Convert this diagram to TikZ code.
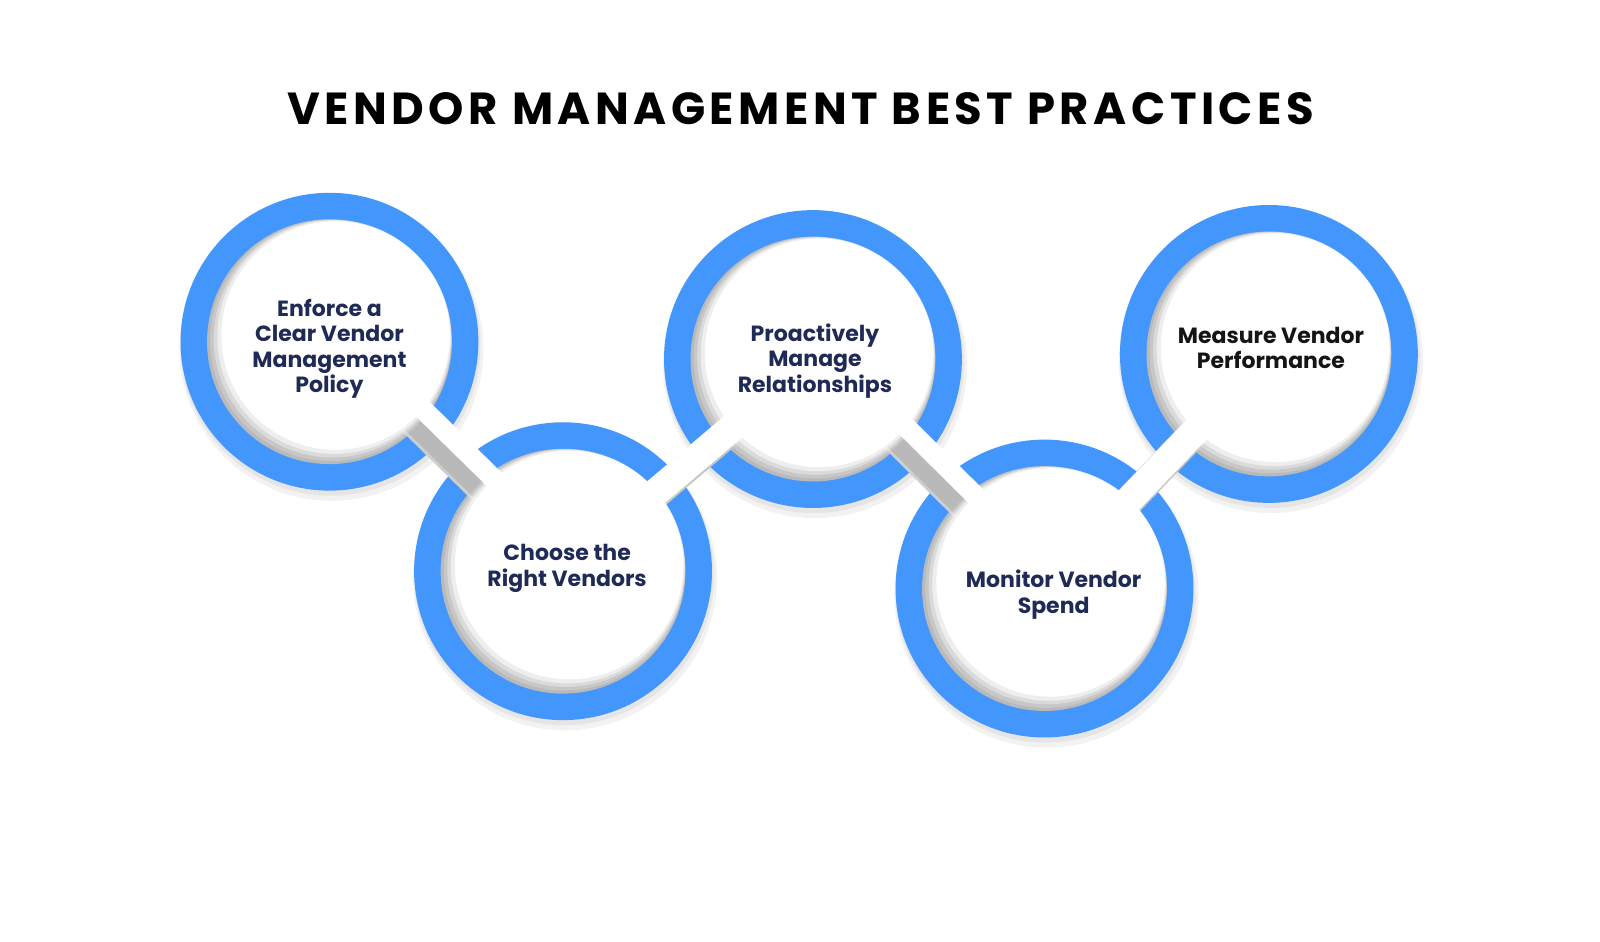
\documentclass[tikz,border=0pt]{standalone}
\usepackage{fontspec}
\setmainfont{Poppins}
\newfontfamily\titlefont[LetterSpace=10]{Poppins}
\usetikzlibrary{calc}
\definecolor{ringblue}{HTML}{4396FC}
\definecolor{shadowgray}{HTML}{B9B9B9}
\definecolor{navy}{HTML}{1F2A56}
\definecolor{inkblack}{HTML}{151515}
\tikzset{
  lbl/.style={align=center, font=\bfseries\fontsize{22}{25.5}\selectfont, text=navy, inner sep=0pt},
  ttl/.style={font=\titlefont\bfseries\fontsize{44.9}{50}\selectfont, text=black, inner sep=0pt},
  ring/.style={fill=ringblue},
  inshadow/.style={fill=shadowgray},
}
\begin{document}
\begin{tikzpicture}[x=1.02pt,y=-1.02pt]
\fill[white] (0,0) rectangle (1568.63,922.55);
\useasboundingbox (0,0) rectangle (1568.63,922.55);
\coordinate (c1) at (323,335);
\coordinate (c2) at (552,560);
\coordinate (c3) at (797,352);
\coordinate (c4) at (1024,577);
\coordinate (c5) at (1244,347);
% soft outer shadows
\foreach \c in {c1,c2,c3,c4,c5} {
  \fill[black,opacity=0.05] ([shift={(2,7)}]\c) circle[radius=149];
  \fill[black,opacity=0.05] ([shift={(1,4)}]\c) circle[radius=147];
}
% blue rings
\foreach \c in {c1,c2,c3,c4,c5} \fill[ring] (\c) circle[radius=146];
% inner shadows
\foreach \c in {c1,c2,c3,c4,c5} \fill[inshadow] (\c) circle[radius=120];
\draw[shadowgray!70, line width=26pt] (c1) -- (c2);
\draw[shadowgray, line width=20pt] (c1) -- (c2);
\draw[shadowgray!70, line width=26pt] (c3) -- (c4);
\draw[shadowgray, line width=20pt] (c3) -- (c4);
\draw[shadowgray!80, line width=30pt] ([shift={(-3,4)}]c2) -- ([shift={(-3,4)}]c3);
\draw[shadowgray!80, line width=30pt] ([shift={(-3,4)}]c4) -- ([shift={(-3,4)}]c5);
% white interiors and channels (soft-edged shadow)
\foreach \c in {c1,c2,c3,c4,c5} {
  \fill[white,opacity=0.2] ([shift={(1.5,-1.5)}]\c) circle[radius=118.5];
  \fill[white,opacity=0.35] ([shift={(3,-3)}]\c) circle[radius=116.5];
  \fill[white,opacity=0.55] ([shift={(4.5,-4.5)}]\c) circle[radius=114.5];
  \fill[white] ([shift={(6,-6)}]\c) circle[radius=112];
}
\draw[white, line width=20pt] ([shift={(12,-12)}]c1) -- ([shift={(12,-12)}]c2);
\draw[white, line width=20pt] ([shift={(12,-12)}]c3) -- ([shift={(12,-12)}]c4);
\draw[white, line width=28pt] (c2) -- (c3);
\draw[white, line width=28pt] (c4) -- (c5);
% texts
\node[ttl] (title) at (785,107) {VENDOR MANAGEMENT BEST PRACTICES};
\node[lbl] (t1) at (323,342) {Enforce a\\Clear Vendor\\Management\\Policy};
\node[lbl] (t2) at (556,557) {Choose the\\Right Vendors};
\node[lbl] (t3) at (799,354) {Proactively\\Manage\\Relationships};
\node[lbl] (t4) at (1033,583) {Monitor Vendor\\Spend};
\node[lbl, text=inkblack] (t5) at (1246,341) {Measure Vendor\\Performance};
\end{tikzpicture}
\end{document}
